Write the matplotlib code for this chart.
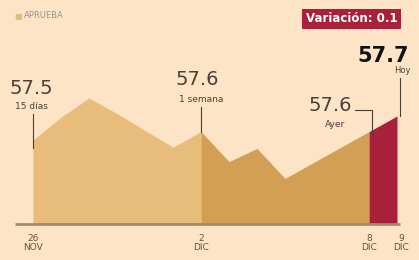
import numpy as np
import matplotlib.pyplot as plt

# datos (aprobacion diaria)
dias = ['26 NOV', '27 NOV', '28 NOV', '29 NOV', '30 NOV', '1 DIC', '2 DIC',
        '3 DIC', '4 DIC', '5 DIC', '6 DIC', '7 DIC', '8 DIC', '9 DIC']
valores = [57.52, 57.71, 57.87, 57.74, 57.60, 57.46, 57.59,
           57.34, 57.45, 57.20, 57.33, 57.46, 57.59, 57.72]
tick_idx = [0, 6, 12, 13]
tick_labels = ['26\nNOV', '2\nDIC', '8\nDIC', '9\nDIC']

fondo = '#FDE4C6'
claro = '#E8BC7A'
oscuro = '#D29F55'
rojo = '#A8203A'
texto = '#4d4037'
base = 56.82

fig = plt.figure(figsize=(4.19, 2.6), dpi=100)
fig.patch.set_facecolor(fondo)
ax = fig.add_axes([0, 0, 1, 1])
ax.set_facecolor(fondo)
x = np.arange(len(valores))
v = np.array(valores)

# px -> datos: x0=33px, 28px por dia; y 120px por unidad
ax.set_xlim(-33 / 28, 13 + 22 / 28)
ax.set_ylim(57.52 - 120 / 120, 57.52 + 140 / 120)
ax.axis('off')

ax.fill_between(x[:7], base, v[:7], color=claro, lw=0)
ax.fill_between(x[6:13], base, v[6:13], color=oscuro, lw=0)
ax.fill_between(x[12:], base, v[12:], color=rojo, lw=0)

# linea base
ax.plot([-18 / 28, 13.1], [base, base], color='#a88a68', lw=2, solid_capstyle='butt')

for i, lab in zip(tick_idx, tick_labels):
    ax.text(x[i] + (0.15 if i == 13 else 0), base - 0.08, lab, ha='center', va='top',
            fontsize=6.5, color='#6b5040', linespacing=1.05)

def py(p):
    return 57.52 + (140 - p) / 120

# anotaciones
ax.text(x[0] - 0.07, py(89), '57.5', ha='center', va='center', fontsize=14, color=texto)
ax.text(x[0] - 0.07, py(107), '15 días', ha='center', va='center', fontsize=6.5, color=texto)
ax.plot([x[0], x[0]], [py(114), py(148)], color=texto, lw=0.8)

ax.text(x[6] - 0.15, py(80), '57.6', ha='center', va='center', fontsize=14, color=texto)
ax.text(x[6], py(100), '1 semana', ha='center', va='center', fontsize=6.5, color=texto)
ax.plot([x[6], x[6]], [py(107), py(132)], color=texto, lw=0.8)

ax.text(x[12] - 1.4, py(106), '57.6', ha='center', va='center', fontsize=14, color=texto)
ax.text(x[12] - 1.2, py(125), 'Ayer', ha='center', va='center', fontsize=6.5, color=texto)
ax.plot([x[12] - 0.5, x[12] + 0.1, x[12] + 0.1], [py(110), py(110), py(134)],
        color=texto, lw=0.8)

ax.text(x[13] - 0.5, py(56), '57.7', ha='center', va='center', fontsize=15,
        fontweight='bold', color='#111111')
ax.text(x[13] + 0.2, py(71), 'Hoy', ha='center', va='center', fontsize=6, color=texto)
ax.plot([x[13] + 0.1, x[13] + 0.1], [py(78), py(116)], color=texto, lw=0.8)

fig.text(351.5 / 419, 1 - 19 / 260, 'Variación: 0.1', ha='center', va='center',
         fontsize=8.5, fontweight='bold', color='white',
         bbox=dict(boxstyle='square,pad=0.3', fc=rojo, ec='none'))

fig.text(14 / 419, 1 - 16 / 260, '■', ha='left', va='center', fontsize=6, color='#d8c080')
fig.text(24 / 419, 1 - 16 / 260, 'APRUEBA', ha='left', va='center', fontsize=6,
         color='#9a948a')

fig.savefig('out.png', dpi=100, facecolor=fondo)
